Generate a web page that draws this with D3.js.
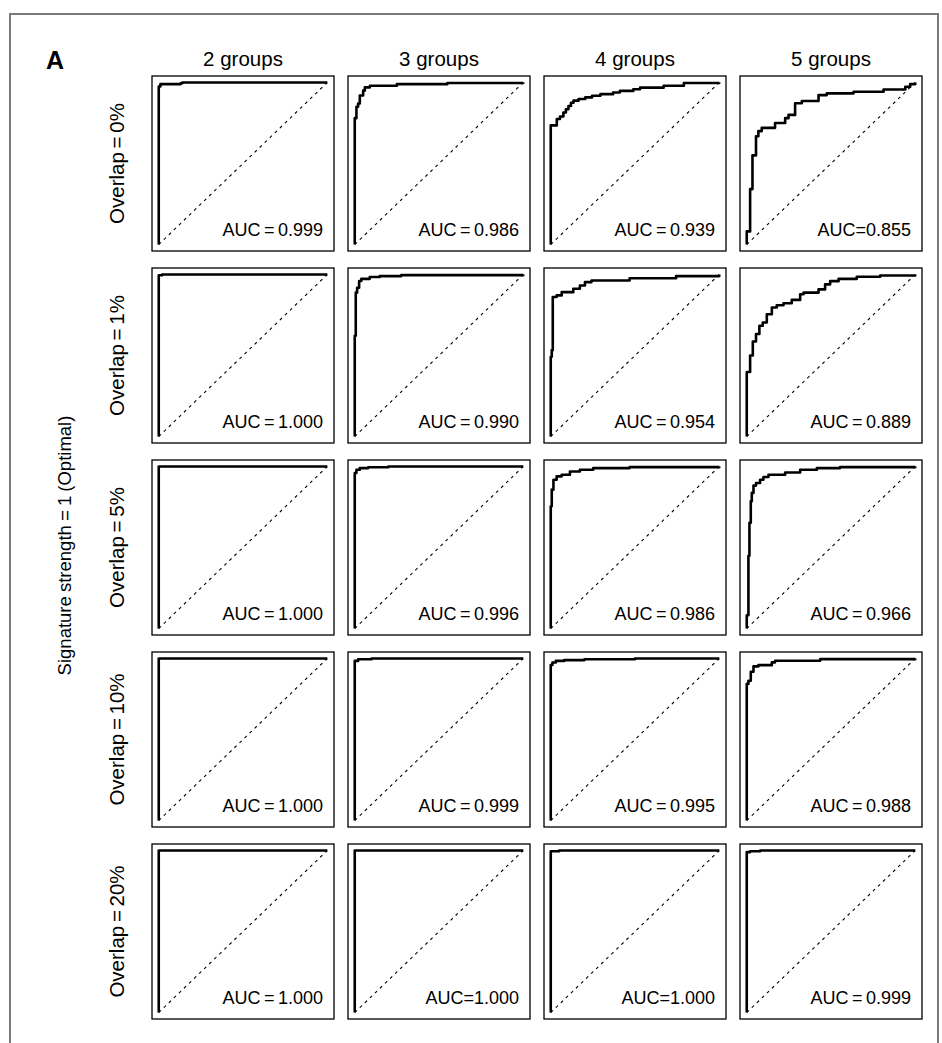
<!DOCTYPE html>
<html>
<head>
<meta charset="utf-8">
<script src="https://cdn.jsdelivr.net/npm/d3@7"></script>
<style>
  html, body { margin: 0; padding: 0; background: #fff; }
  svg { display: block; }
  text { font-family: "Liberation Sans", Arial, Helvetica, sans-serif; fill: #000; }
</style>
</head>
<body>
<svg id="chart" width="942" height="1043"></svg>
<script>
// ---------- DATA ----------
const groupLabels = ["2 groups", "3 groups", "4 groups", "5 groups"];
const overlapLabels = ["Overlap = 0%", "Overlap = 1%", "Overlap = 5%", "Overlap = 10%", "Overlap = 20%"];
const yTitle = "Signature strength = 1 (Optimal)";
const panelLetter = "A";

const aucOverlap0  = ["AUC = 0.999", "AUC = 0.986", "AUC = 0.939", "AUC=0.855"];
const aucOverlap1  = ["AUC = 1.000", "AUC = 0.990", "AUC = 0.954", "AUC = 0.889"];
const aucOverlap5  = ["AUC = 1.000", "AUC = 0.996", "AUC = 0.986", "AUC = 0.966"];
const aucOverlap10 = ["AUC = 1.000", "AUC = 0.999", "AUC = 0.995", "AUC = 0.988"];
const aucOverlap20 = ["AUC = 1.000", "AUC=1.000", "AUC=1.000", "AUC = 0.999"];

// ROC curves: [false positive rate, true positive rate reached at that FPR]
// Overlap = 0%
const roc2g_ov0 = [[0,0],[0,0.975],[0.01,0.99],[0.13,0.995],[0.14,1],[1,1]];
const roc3g_ov0 = [[0,0],[0,0.78],[0.01,0.85],[0.02,0.87],[0.03,0.92],[0.05,0.95],[0.06,0.97],[0.09,0.98],[0.25,0.99],[0.55,0.997],[1,1]];
const roc4g_ov0 = [[0,0],[0,0.735],[0.036,0.775],[0.055,0.79],[0.075,0.815],[0.09,0.835],[0.105,0.855],[0.12,0.875],[0.135,0.888],[0.165,0.898],[0.205,0.908],[0.245,0.918],[0.295,0.928],[0.37,0.938],[0.41,0.948],[0.49,0.958],[0.53,0.968],[0.67,0.98],[0.79,0.997],[1,1]];
const roc5g_ov0 = [[0,0],[0,0.081],[0.02,0.342],[0.034,0.55],[0.055,0.668],[0.069,0.7],[0.089,0.72],[0.168,0.75],[0.228,0.78],[0.248,0.8],[0.287,0.872],[0.327,0.886],[0.426,0.922],[0.475,0.933],[0.634,0.943],[0.812,0.957],[0.941,0.974],[0.97,0.99],[1,1]];
// Overlap = 1%
const roc2g_ov1 = [[0,0],[0,0.995],[0.02,1],[1,1]];
const roc3g_ov1 = [[0,0],[0,0.622],[0.006,0.888],[0.014,0.918],[0.026,0.96],[0.039,0.973],[0.089,0.984],[0.148,0.99],[0.276,0.996],[1,1]];
const roc4g_ov1 = [[0,0],[0,0.492],[0.006,0.533],[0.012,0.861],[0.035,0.871],[0.065,0.891],[0.134,0.912],[0.173,0.932],[0.203,0.953],[0.242,0.963],[0.468,0.977],[0.744,0.99],[1,1]];
const roc5g_ov1 = [[0,0],[0,0.398],[0.02,0.5],[0.036,0.586],[0.055,0.633],[0.075,0.684],[0.095,0.704],[0.119,0.755],[0.149,0.796],[0.178,0.81],[0.218,0.822],[0.267,0.843],[0.317,0.878],[0.337,0.888],[0.426,0.908],[0.465,0.939],[0.495,0.959],[0.545,0.973],[0.653,0.986],[0.792,0.994],[1,1]];
// Overlap = 5%
const roc2g_ov5 = [[0,0],[0,1],[1,1]];
const roc3g_ov5 = [[0,0],[0,0.96],[0.01,0.98],[0.03,0.99],[0.08,0.995],[0.2,1],[1,1]];
const roc4g_ov5 = [[0,0],[0,0.755],[0.006,0.857],[0.016,0.918],[0.035,0.939],[0.065,0.949],[0.114,0.969],[0.173,0.98],[0.252,0.99],[0.468,0.996],[1,1]];
const roc5g_ov5 = [[0,0],[0,0.082],[0.01,0.449],[0.016,0.653],[0.024,0.786],[0.03,0.837],[0.04,0.882],[0.055,0.898],[0.079,0.918],[0.099,0.935],[0.129,0.949],[0.228,0.963],[0.317,0.98],[0.416,0.99],[0.554,0.996],[1,1]];
// Overlap = 10%
const roc2g_ov10 = [[0,0],[0,1],[1,1]];
const roc3g_ov10 = [[0,0],[0,0.985],[0.02,0.995],[0.1,1],[1,1]];
const roc4g_ov10 = [[0,0],[0,0.96],[0.01,0.975],[0.03,0.985],[0.08,0.99],[0.2,0.995],[0.5,1],[1,1]];
const roc5g_ov10 = [[0,0],[0,0.843],[0.01,0.863],[0.024,0.918],[0.04,0.951],[0.069,0.959],[0.149,0.976],[0.168,0.986],[0.436,0.996],[1,1]];
// Overlap = 20%
const roc2g_ov20 = [[0,0],[0,1],[1,1]];
const roc3g_ov20 = [[0,0],[0,1],[1,1]];
const roc4g_ov20 = [[0,0],[0,0.995],[0.05,1],[1,1]];
const roc5g_ov20 = [[0,0],[0,0.99],[0.02,0.995],[0.08,1],[1,1]];

const diagonal = [[0,0],[1,1]];

const rocRows = [
  [roc2g_ov0,  roc3g_ov0,  roc4g_ov0,  roc5g_ov0],
  [roc2g_ov1,  roc3g_ov1,  roc4g_ov1,  roc5g_ov1],
  [roc2g_ov5,  roc3g_ov5,  roc4g_ov5,  roc5g_ov5],
  [roc2g_ov10, roc3g_ov10, roc4g_ov10, roc5g_ov10],
  [roc2g_ov20, roc3g_ov20, roc4g_ov20, roc5g_ov20]
];
const aucRows = [aucOverlap0, aucOverlap1, aucOverlap5, aucOverlap10, aucOverlap20];

// ---------- LAYOUT ----------
const svg = d3.select("#chart");
const colX0 = 152, colStep = 196, rowY0 = 76, rowStep = 192;
const pw = 182, ph = 175;

// outer frame
svg.append("rect")
  .attr("x", 10).attr("y", 14)
  .attr("width", 928).attr("height", 1060)
  .attr("fill", "none").attr("stroke", "#7a7a7a").attr("stroke-width", 2);

// panel letter
svg.append("text")
  .attr("x", 46).attr("y", 69)
  .attr("font-size", 25).attr("font-weight", "bold")
  .text(panelLetter);

// y title
const gridTop = rowY0, gridBottom = rowY0 + rowStep * 4 + ph;
svg.append("text")
  .attr("transform", `translate(71,${(gridTop + gridBottom) / 2 - 2}) rotate(-90)`)
  .attr("text-anchor", "middle")
  .attr("font-size", 18.5)
  .attr("word-spacing", -1)
  .text(yTitle);

// column headers
groupLabels.forEach((g, j) => {
  svg.append("text")
    .attr("x", colX0 + j * colStep + pw / 2)
    .attr("y", 66)
    .attr("text-anchor", "middle")
    .attr("font-size", 20.5)
    .text(g);
});

// row labels
overlapLabels.forEach((o, i) => {
  svg.append("text")
    .attr("transform", `translate(124,${rowY0 + i * rowStep + ph / 2}) rotate(-90)`)
    .attr("text-anchor", "middle")
    .attr("font-size", 20.5)
    .attr("word-spacing", -2)
    .text(o);
});

// panels
rocRows.forEach((row, i) => {
  row.forEach((roc, j) => {
    const x0 = colX0 + j * colStep, y0 = rowY0 + i * rowStep;
    const x = d3.scaleLinear().domain([-0.04, 1.04]).range([x0, x0 + pw]);
    const y = d3.scaleLinear().domain([-0.04, 1.04]).range([y0 + ph, y0]);
    const g = svg.append("g");

    g.append("rect")
      .attr("x", x0).attr("y", y0).attr("width", pw).attr("height", ph)
      .attr("fill", "#fff").attr("stroke", "#000").attr("stroke-width", 1.3);

    const straight = d3.line().x(d => x(d[0])).y(d => y(d[1]));
    g.append("path")
      .attr("d", straight(diagonal))
      .attr("fill", "none").attr("stroke", "#000")
      .attr("stroke-width", 1.1).attr("stroke-dasharray", "3,4");

    const step = d3.line().x(d => x(d[0])).y(d => y(d[1])).curve(d3.curveStepAfter);
    g.append("path")
      .attr("d", step(roc))
      .attr("fill", "none").attr("stroke", "#000")
      .attr("stroke-width", 2.6).attr("stroke-linejoin", "round");

    g.append("text")
      .attr("x", x0 + pw - 11).attr("y", y0 + ph - 15)
      .attr("text-anchor", "end")
      .attr("font-size", 18)
      .attr("word-spacing", -1.5)
      .text(aucRows[i][j]);
  });
});
</script>
</body>
</html>
